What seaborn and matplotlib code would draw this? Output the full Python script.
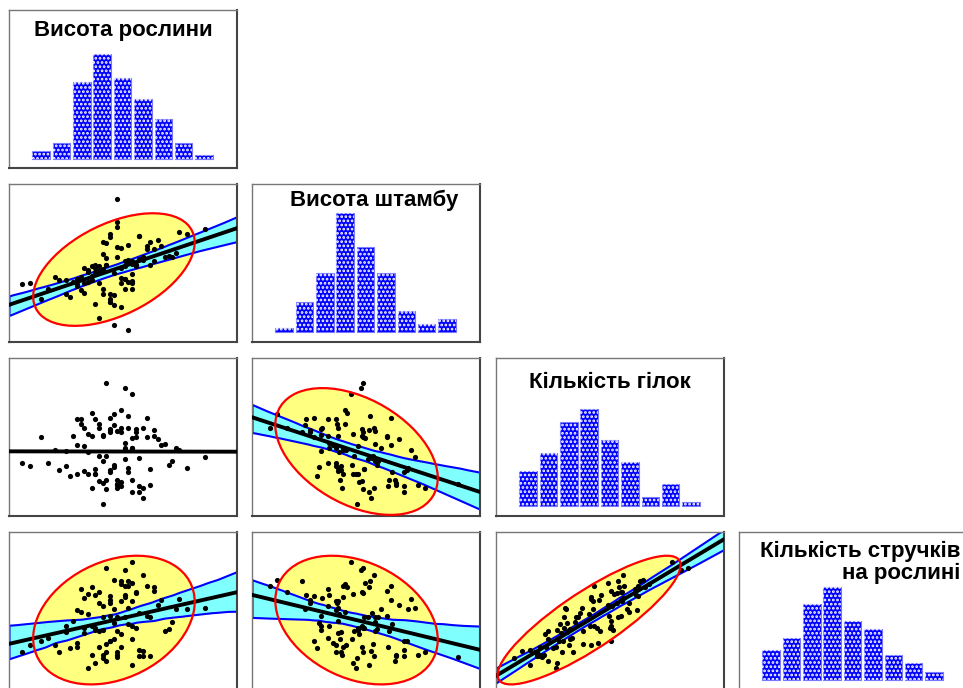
import numpy as np
import matplotlib
matplotlib.use("Agg")
import matplotlib.pyplot as plt
import seaborn as sns
from matplotlib.patches import Ellipse

plt.rcParams['font.family'] = ['Liberation Sans', 'DejaVu Sans']
plt.rcParams['hatch.linewidth'] = 1.3

# standardized scores of the four traits (one value per plant)
plant_height = [0.3, -1.2, 0.8, 0.1, -0.5, 1.6, -0.2, 0.6, -0.9, 0.0,
                1.1, -0.4, 0.2, -1.7, 0.5, 0.9, -0.1, -0.7, 2.1, 0.4,
                -0.3, 0.7, 0.6, 0.2, 1.3, -0.6, 0.0, -2.2, 0.6, -0.2,
                0.9, -0.8, 0.3, 1.8, -0.4, 0.1, 0.4, 0.5, -0.1, 0.8,
                -0.6, 1.2, 0.0, -0.3, 0.4, -1.5, 0.7, 2.6, -0.2, 0.2,
                -0.9, 0.6, 1.0, -0.5, 0.3, -0.1, -1.1, 1.5, 0.1, -0.7,
                0.4, -0.2, 0.9, -1.9, 0.0, 0.5, 1.4, -0.4, 0.2, -0.8,
                1.1, -0.3, 0.6, -1.4, 0.3, 0.8, -0.6, 0.0, 1.9, -0.1,
                -1.0, 0.2, 0.7, -0.5, 1.2, -0.2, 0.4, -2.4, 0.5, 0.1,
                -0.7, 1.0, -0.3, 0.6, -1.2, 0.3, 1.7, -0.4, 0.0, -0.9]
stem_height = [-0.30, -0.21, 1.34, -1.10, -0.06, 0.66, 0.70, -0.25, -0.42, 1.32,
               0.34, -1.07, 0.62, -0.54, 0.50, 0.51, 0.57, -0.68, 1.43, -0.52,
               0.10, 0.33, 0.02, 1.85, 1.20, 0.07, -0.97, -0.33, 0.46, -0.53,
               0.60, -0.11, 0.93, 0.76, 0.34, -1.80, 0.28, -0.29, 1.10, 0.55,
               0.16, 0.90, 1.41, -0.32, -0.16, -0.09, 0.33, 1.60, 0.17, 2.65,
               -0.34, -0.33, 0.90, -0.20, -1.18, 0.31, -0.80, 0.62, -0.75, 0.20,
               -0.16, 1.14, 0.60, -0.89, -0.88, 1.03, 1.00, 0.08, 1.68, -0.55,
               1.13, -1.55, 0.37, -0.22, -0.12, 1.34, -0.28, -0.70, 1.50, 0.31,
               -0.29, 0.97, 0.30, 0.29, 0.48, -0.71, 0.45, -0.34, -1.97, 0.05,
               -0.30, 1.00, 0.30, -0.51, -0.70, 0.23, 0.62, 0.20, -0.97, -0.16]
branches = [0.95, -0.49, -1.47, 1.08, 1.54, -0.43, -0.27, -0.99, 0.32, -0.70,
            -0.57, 1.30, 0.84, -0.37, 1.42, -1.68, -0.09, 0.96, -0.53, 0.40,
            -0.08, 0.63, 2.25, -1.30, 0.56, 0.74, 0.80, -0.46, -1.47, 0.67,
            0.97, 1.13, -1.22, 0.19, -0.57, 1.50, 2.49, -0.56, -1.00, -0.16,
            -0.79, 0.65, -0.61, 1.13, 0.21, 0.13, 0.80, -0.12, -1.89, -1.15,
            1.32, 0.19, 0.61, -1.29, 0.83, 2.67, -0.86, 0.36, -0.51, 0.29,
            0.12, -1.10, -1.29, 0.64, 1.36, -0.69, 0.34, -0.77, -1.20, 1.29,
            -1.18, 0.95, 0.58, -0.64, 1.64, -1.21, 0.07, 0.91, 0.13, -1.33,
            0.66, -1.01, 0.92, 0.65, 0.87, 0.69, -0.22, -0.34, 0.98, -0.43,
            -0.66, 1.36, -1.04, 0.20, 0.09, -1.08, -0.29, -0.76, 0.90, -0.78]
pods = [0.77, -0.29, -0.91, 0.51, 1.28, -0.20, 0.23, -0.54, -0.67, -0.60,
        0.21, 1.00, 0.24, -0.50, 1.47, -0.97, -0.71, 0.90, 0.50, 0.99,
        -0.27, -0.17, 2.12, -1.00, 0.65, 1.01, 0.70, -0.76, -1.44, 0.62,
        1.68, 0.39, -0.81, 0.50, -0.17, 1.50, 1.86, 0.55, -1.30, 0.35,
        -1.55, 1.11, -0.60, 0.72, 1.29, -0.75, 1.04, 0.52, -1.20, -1.16,
        0.48, 0.77, 0.27, -1.09, 1.47, 1.94, -0.84, -0.26, 0.03, -0.17,
        0.93, -1.10, -1.13, -0.60, 0.96, -0.01, 0.83, -1.37, -1.10, 1.20,
        -1.15, 1.08, 1.42, -1.00, 1.37, -1.15, 0.34, 0.26, 0.84, -1.00,
        0.08, -0.25, 1.08, -0.09, 1.28, -0.23, 0.24, -0.98, 1.31, -0.55,
        -0.34, 1.30, -0.83, -0.08, -0.08, -0.38, 0.04, -0.24, 0.80, -0.82]

# histogram counts on the diagonal
hist_plant_height = [2, 4, 19, 26, 20, 15, 10, 4, 1]
hist_stem_height = [1, 7, 14, 28, 20, 14, 5, 2, 3]
hist_branches = [8, 12, 19, 22, 15, 10, 2, 5, 1]
hist_pods = [7, 10, 18, 22, 14, 12, 6, 4, 2]
bins = list(range(9))

variables = [np.array(plant_height), np.array(stem_height),
             np.array(branches), np.array(pods)]
hists = [hist_plant_height, hist_stem_height, hist_branches, hist_pods]

# axis span of each variable in sd units (low, high)
span_sd = [(-3.18, 3.73), (-3.15, 3.72), (-2.49, 3.61), (-2.66, 3.35)]

W, H = 963, 688
col_x = [9, 252, 496, 739]
row_y = [10, 184, 358, 532]
PW, PH = 228, 158

fig = plt.figure(figsize=(W / 100, H / 100), dpi=100)


def make_ax(r, c):
    ax = fig.add_axes([col_x[c] / W, 1 - (row_y[r] + PH) / H, PW / W, PH / H])
    ax.set_xticks([])
    ax.set_yticks([])
    for s in ['left', 'top']:
        ax.spines[s].set_color('#777777')
        ax.spines[s].set_linewidth(1.0)
    for s in ['right', 'bottom']:
        ax.spines[s].set_color('#444444')
        ax.spines[s].set_linewidth(1.5)
    return ax


def lims(i):
    v = variables[i]
    m, s = v.mean(), v.std(ddof=1)
    return m + span_sd[i][0] * s, m + span_sd[i][1] * s


def conf_ellipse(ax, x, y):
    cov = np.cov(x, y)
    vals, vecs = np.linalg.eigh(cov)
    order = vals.argsort()[::-1]
    vals, vecs = vals[order], vecs[:, order]
    angle = np.degrees(np.arctan2(vecs[1, 0], vecs[0, 0]))
    k = np.sqrt(5.991)
    w, h = 2 * k * np.sqrt(vals)
    c = (x.mean(), y.mean())
    ax.add_patch(Ellipse(c, w, h, angle=angle, facecolor='#FFFF80',
                         edgecolor='none', zorder=1))
    ax.add_patch(Ellipse(c, w, h, angle=angle, facecolor='none',
                         edgecolor='#FF0000', lw=1.6, zorder=6))


# scatter panels (lower triangle)
for r in range(1, 4):
    for c in range(r):
        ax = make_ax(r, c)
        x, y = variables[c], variables[r]
        ax.set_xlim(*lims(c))
        ax.set_ylim(*lims(r))
        full = not (r == 2 and c == 0)
        if full:
            conf_ellipse(ax, x, y)
            sns.regplot(x=x, y=y, ax=ax, scatter=False, ci=99, seed=3,
                        truncate=False, color='black',
                        line_kws={'lw': 2.8, 'zorder': 4})
            band = ax.collections[-1]
            band.set_alpha(1)
            band.set_facecolor('#80FFFF')
            band.set_edgecolor('#0000FF')
            band.set_linewidth(1.5)
            band.set_zorder(2)
        else:
            sns.regplot(x=x, y=y, ax=ax, scatter=False, ci=None,
                        truncate=False, color='black',
                        line_kws={'lw': 2.8, 'zorder': 4})
        sns.scatterplot(x=x, y=y, ax=ax, color='black', s=14, linewidth=0,
                        zorder=5, legend=False)
        ax.set_xlim(*lims(c))
        ax.set_ylim(*lims(r))
        ax.set_xlabel('')
        ax.set_ylabel('')

# histogram panels (diagonal)
base_px = [9, 10, 10, 10]
top_px = [104.7, 119, 96.7, 93.3]
diag_axes = []
for i in range(4):
    ax = make_ax(i, i)
    diag_axes.append(ax)
    counts = hists[i]
    sns.barplot(x=bins, y=counts, ax=ax, color='#0000FF', saturation=1,
                width=0.86, edgecolor='#7777FF', linewidth=0.8,
                errorbar=None)
    n0 = len(ax.patches)
    sns.barplot(x=bins, y=counts, ax=ax, color='white', saturation=1,
                width=0.86, fill=False, linewidth=0, errorbar=None)
    for p in ax.patches[n0:]:
        p.set_hatch('....')
        p.set_edgecolor('white')
        p.set_linewidth(0)
    k = top_px[i] / max(counts)
    ax.set_ylim(-base_px[i] / k, (PH - base_px[i]) / k)
    ax.set_xlim(-32 / 20.4, 8 + (PW - 195) / 20.4)
    ax.set_xticks([])
    ax.set_yticks([])
    ax.set_xlabel('')
    ax.set_ylabel('')

# titles inside the diagonal frames
title_kw = dict(fontsize=16, fontweight='bold', color='black')
titles = [("Висота рослини", 114, 26),
          ("Висота штамбу", 122, 22),
          ("Кількість гілок", 114, 30)]
for ax, (t, px, py) in zip(diag_axes[:3], titles):
    ax.text(px / PW, 1 - py / PH, t, transform=ax.transAxes, ha='center',
            va='baseline', **title_kw)
ax4 = diag_axes[3]
ax4.text(221 / PW, 1 - 25 / PH, "Кількість стручків", transform=ax4.transAxes,
         ha='right', va='baseline', **title_kw)
ax4.text(221 / PW, 1 - 47 / PH, "на рослині", transform=ax4.transAxes,
         ha='right', va='baseline', **title_kw)

fig.savefig("out.png", dpi=100, facecolor='white')
